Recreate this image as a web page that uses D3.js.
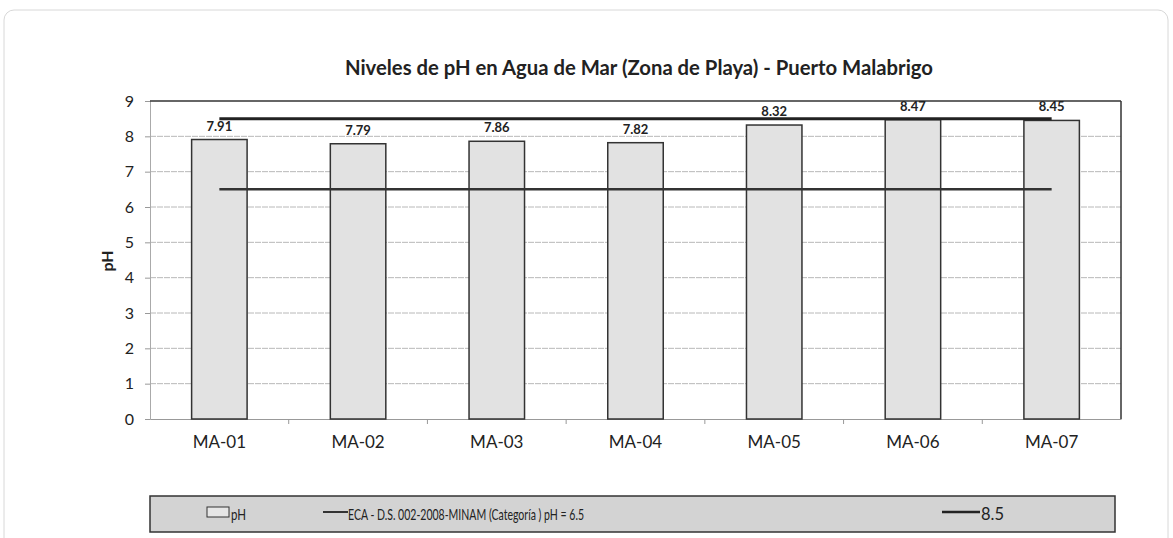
<!DOCTYPE html>
<html><head><meta charset="utf-8">
<script src="https://cdn.jsdelivr.net/npm/d3@7"></script>
<style>body{margin:0;background:#fff;} text{font-family:Lato,"Open Sans",sans-serif;}</style>
</head><body>
<svg id="c" width="1173" height="538"></svg>
<script>
const categories = ["MA-01","MA-02","MA-03","MA-04","MA-05","MA-06","MA-07"];
const phValues = [7.91,7.79,7.86,7.82,8.32,8.47,8.45];
const ecaMin = [6.5,6.5,6.5,6.5,6.5,6.5,6.5];
const ecaMax = [8.5,8.5,8.5,8.5,8.5,8.5,8.5];
const yTicks = [0,1,2,3,4,5,6,7,8,9];
const titleText = "Niveles de pH en Agua de Mar (Zona de Playa) - Puerto Malabrigo";
const legendLabels = ["pH","ECA - D.S. 002-2008-MINAM (Categoría ) pH = 6.5","8.5"];

const svg = d3.select("#c");
const L = 150, R = 1121, T = 101, B = 419;

// outer faint frame
svg.append("rect").attr("x",4).attr("y",10).attr("width",1164).attr("height",540)
  .attr("rx",10).attr("fill","none").attr("stroke","#d8d8d8").attr("stroke-width",1);

const x = d3.scaleBand().domain(categories).range([L,R]).paddingInner(0.6).paddingOuter(0.3);
const xc = d3.scalePoint().domain(categories).range([L,R]).padding(0.5);
const y = d3.scaleLinear().domain([0,9]).range([B,T]);

// gridlines
svg.append("g").selectAll("line").data(yTicks.slice(1,-1)).join("line")
  .attr("x1",L).attr("x2",R).attr("y1",d=>y(d)).attr("y2",d=>y(d))
  .attr("stroke","#b8b8b8").attr("stroke-width",1).attr("stroke-dasharray","6,1");

// y axis
const ya = svg.append("g").attr("transform",`translate(${L},0)`)
  .call(d3.axisLeft(y).tickValues(yTicks).tickSize(5).tickPadding(11));
ya.select(".domain").attr("stroke","#aaa");
ya.selectAll(".tick line").attr("stroke","#999");
ya.selectAll("text").attr("font-size",16).attr("fill","#222").style("font-family","Lato,sans-serif");

// x axis
const xa = svg.append("g").attr("transform",`translate(0,${B})`)
  .call(d3.axisBottom(x).tickSize(0).tickPadding(17));
xa.select(".domain").attr("stroke","#999");
xa.selectAll("text").attr("font-size",17).attr("fill","#222").style("font-family","Lato,sans-serif");
// category boundary ticks
const step = (R-L)/categories.length;
svg.append("g").selectAll("line").data(d3.range(1,categories.length)).join("line")
  .attr("x1",d=>L+d*step).attr("x2",d=>L+d*step).attr("y1",B).attr("y2",B+5)
  .attr("stroke","#999");

// top and right border
svg.append("line").attr("x1",L).attr("x2",R).attr("y1",T).attr("y2",T).attr("stroke","#333").attr("stroke-width",1.5);
svg.append("line").attr("x1",R).attr("x2",R).attr("y1",T).attr("y2",B).attr("stroke","#333").attr("stroke-width",1.5);

// bars
svg.append("g").selectAll("rect").data(phValues).join("rect")
  .attr("x",(d,i)=>x(categories[i])).attr("width",x.bandwidth())
  .attr("y",d=>y(d)).attr("height",d=>B-y(d))
  .attr("fill","#e2e2e2").attr("stroke","#333").attr("stroke-width",1.5);

// labels
svg.append("g").selectAll("text").data(phValues).join("text")
  .attr("x",(d,i)=>xc(categories[i])).attr("y",d=>y(d)-9)
  .attr("text-anchor","middle").attr("font-size",13).attr("font-weight","bold").attr("fill","#222")
  .text(d=>d.toFixed(2));

// reference lines
const line = d3.line().x((d,i)=>xc(categories[i])).y(d=>y(d));
svg.append("path").datum(ecaMin).attr("d",line).attr("fill","none").attr("stroke","#333").attr("stroke-width",2.5);
svg.append("path").datum(ecaMax).attr("d",line).attr("fill","none").attr("stroke","#222").attr("stroke-width",3);

// title
svg.append("text").attr("x",345).attr("y",75)
  .attr("font-size",20).attr("font-weight","bold").attr("fill","#222")
  .attr("textLength",588).attr("lengthAdjust","spacingAndGlyphs").text(titleText);

// y label
svg.append("text").attr("transform","translate(113,261) rotate(-90)").attr("text-anchor","middle")
  .attr("font-size",16).attr("font-weight","bold").attr("fill","#222").text("pH");

// legend
const lg = svg.append("g");
lg.append("rect").attr("x",150).attr("y",496).attr("width",965).attr("height",36)
  .attr("fill","#d3d3d3").attr("stroke","#333").attr("stroke-width",1.5);
lg.append("rect").attr("x",207).attr("y",507).attr("width",22).attr("height",10)
  .attr("fill","#e6e6e6").attr("stroke","#333").attr("stroke-width",1);
lg.append("text").attr("x",231).attr("y",520).attr("font-size",16).attr("fill","#222")
  .attr("textLength",15).attr("lengthAdjust","spacingAndGlyphs").text(legendLabels[0]);
lg.append("line").attr("x1",323).attr("x2",348).attr("y1",512).attr("y2",512).attr("stroke","#333").attr("stroke-width",2);
lg.append("text").attr("x",348).attr("y",520).attr("font-size",16).attr("fill","#222")
  .attr("textLength",236).attr("lengthAdjust","spacingAndGlyphs").text(legendLabels[1]);
lg.append("line").attr("x1",942).attr("x2",980).attr("y1",512).attr("y2",512).attr("stroke","#222").attr("stroke-width",2.5);
lg.append("text").attr("x",981).attr("y",520).attr("font-size",17).attr("fill","#222")
  .attr("textLength",23).attr("lengthAdjust","spacingAndGlyphs").text(legendLabels[2]);
</script>
</body></html>
